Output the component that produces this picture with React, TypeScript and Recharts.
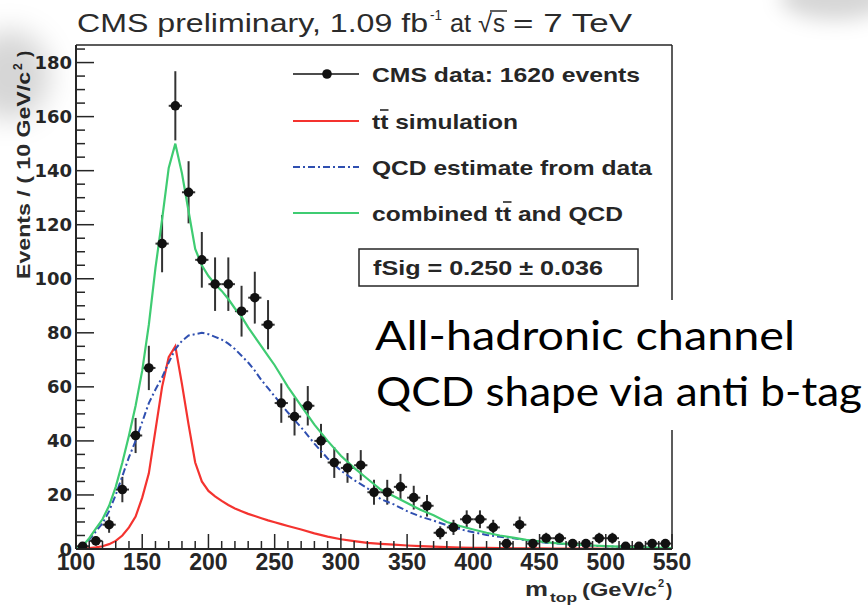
import React from 'react'
import { ComposedChart, Line, Scatter, ErrorBar, XAxis, YAxis, ReferenceLine, Legend } from 'recharts'

// data histogram, 10 GeV bins
const BIN_CENTERS = [105, 115, 125, 135, 145, 155, 165, 175, 185, 195, 205, 215, 225, 235, 245, 255, 265, 275, 285, 295, 305, 315, 325, 335, 345, 355, 365, 375, 385, 395, 405, 415, 425, 435, 445, 455, 465, 475, 485, 495, 505, 515, 525, 535, 545]
const EVENTS = [1, 3, 9, 22, 42, 67, 113, 164, 132, 107, 98, 98, 88, 93, 83, 54, 49, 53, 40, 32, 30, 31, 21, 21, 23, 19, 16, 6, 8, 11, 11, 8, 2, 9, 2, 4, 4, 2, 2, 4, 4, 1, 1, 2, 2]
const EVENT_ERR = [1, 1.7, 3, 4.7, 6.5, 8.2, 10.6, 12.8, 11.5, 10.3, 9.9, 9.9, 9.4, 9.6, 9.1, 7.3, 7, 7.3, 6.3, 5.7, 5.5, 5.6, 4.6, 4.6, 4.8, 4.4, 4, 2.4, 2.8, 3.3, 3.3, 2.8, 1.4, 3, 1.4, 2, 2, 1.4, 1.4, 2, 2, 1, 1, 1.4, 1.4]
const HALF_BIN = 5

// fitted curves, sampled on a common grid
const CURVE_X = [100, 105, 110, 115, 120, 125, 130, 135, 140, 145, 150, 155, 160, 165, 170, 175, 180, 185, 190, 195, 200, 205, 210, 215, 220, 225, 230, 235, 240, 245, 250, 255, 260, 270, 280, 290, 300, 310, 320, 330, 340, 350, 360, 370, 380, 390, 400, 410, 420, 430, 440, 450, 460, 470, 480, 490, 500, 520, 550]
const TT_SIM = [0, 0.1, 0.3, 0.6, 1, 1.8, 3, 5, 8, 12, 19, 28, 44, 60, 71, 75, 61, 46, 32, 25, 21.5, 19.5, 17.8, 16.3, 15, 14, 13, 12.2, 11.4, 10.6, 9.9, 9.2, 8.5, 7.2, 5.8, 4.6, 3.6, 2.9, 2.3, 1.9, 1.6, 1.3, 1.1, 0.9, 0.7, 0.55, 0.45, 0.38, 0.32, 0.27, 0.23, 0.2, 0.17, 0.15, 0.13, 0.11, 0.1, 0.07, 0.04]
const QCD_EST = [0, 1, 3.5, 6.5, 9.5, 14, 20, 27, 34, 40, 47, 54, 59, 63.5, 69, 74, 77, 79, 79.5, 80, 79.5, 78.5, 77.5, 76, 74, 71.5, 69, 66, 62.5, 59.5, 56.5, 53.5, 50.5, 45, 39, 33.5, 29, 25.5, 22.5, 18.5, 16.5, 14, 12, 10.5, 8.8, 7.3, 6.2, 5.2, 4.5, 4, 3.2, 2.6, 2.1, 1.8, 1.5, 1.2, 1, 0.6, 0.3]
const COMBINED = [0, 1, 4, 7.5, 11, 16, 23, 32, 42, 53, 66, 83, 104, 122, 141, 150, 139, 125, 111, 105, 101, 98, 95.5, 92.5, 89, 86, 82, 78.5, 75, 71.5, 68, 64, 60, 53, 46, 40, 34.5, 30, 26, 22, 19.5, 17, 14.5, 12.5, 10, 8.5, 7.2, 6, 5, 4.2, 3.4, 2.8, 2.3, 1.9, 1.6, 1.3, 1.1, 0.7, 0.3]

const X_LABELS = [100, 150, 200, 250, 300, 350, 400, 450, 500, 550]
const Y_LABELS = [0, 20, 40, 60, 80, 100, 120, 140, 160, 180]
const X_TICKS = Array.from({ length: 46 }, (_, i) => 100 + i * 10)
const Y_TICKS = Array.from({ length: 38 }, (_, i) => i * 5)
const Y_MAX = 186.5

const points = BIN_CENTERS.map((x, i) => ({ x, y: EVENTS[i], yErr: EVENT_ERR[i], xErr: HALF_BIN }))
const toCurve = (vals: number[]) => CURVE_X.map((x, i) => ({ x, y: vals[i] }))

const RED = '#f4332f'
const BLUE = '#2f4fb0'
const GREEN = '#3fcc72'
const INK = '#262626'
const SANS = '"Liberation Sans", Arial, Helvetica, sans-serif'

function XTick({ x, y, payload }: any) {
  const v = payload.value
  const major = X_LABELS.includes(v)
  return (
    <g>
      <line x1={x} x2={x} y1={y} y2={y - (major ? 15 : 8)} stroke={INK} strokeWidth={1.5} />
      {major && (
        <text x={x} y={y + 21} textAnchor="middle" fontFamily={SANS} fontWeight="bold" fontSize={23} fill={INK}>
          {v}
        </text>
      )}
    </g>
  )
}

function YTick({ x, y, payload }: any) {
  const v = payload.value
  const major = Y_LABELS.includes(v)
  return (
    <g>
      <line x1={x} x2={x + (major ? 18 : 9)} y1={y} y2={y} stroke={INK} strokeWidth={1.5} />
      {major && (
        <text x={x - 4} y={y + 6.5} textAnchor="end" fontFamily='"DejaVu Sans", sans-serif' fontWeight="bold" fontSize={18} fill={INK}>
          {v}
        </text>
      )}
    </g>
  )
}

function Dot({ cx, cy }: any) {
  return <circle cx={cx} cy={cy} r={4.8} fill="#111" />
}

function LegendBox() {
  const txt = { fontFamily: SANS, fontWeight: 'bold' as const, fontSize: 21, fill: INK, lengthAdjust: 'spacingAndGlyphs' as const }
  return (
    <svg width={868} height={300} style={{ display: 'block', pointerEvents: 'none' }}>
      <line x1={293} x2={359} y1={74} y2={74} stroke="#111" strokeWidth={1.5} />
      <circle cx={327} cy={74} r={4.8} fill="#111" />
      <text x={372} y={81.5} textLength={268} {...txt}>CMS data: 1620 events</text>

      <line x1={293} x2={359} y1={121} y2={121} stroke={RED} strokeWidth={2} />
      <text x={372} y={128.5} textLength={146} {...txt}>tt simulation</text>
      <line x1={380} x2={388.5} y1={110} y2={110} stroke={INK} strokeWidth={1.6} />

      <line x1={293} x2={359} y1={167} y2={167} stroke={BLUE} strokeWidth={2} strokeDasharray="7 3 2 3" />
      <text x={372} y={174.5} textLength={280} {...txt}>QCD estimate from data</text>

      <line x1={293} x2={359} y1={213} y2={213} stroke={GREEN} strokeWidth={2} />
      <text x={372} y={220.5} textLength={251} {...txt}>combined tt and QCD</text>
      <line x1={503} x2={511.5} y1={202} y2={202} stroke={INK} strokeWidth={1.6} />

      <rect x={359} y={249} width={279} height={37} fill="#fff" stroke={INK} strokeWidth={1.5} />
      <text x={373} y={275} textLength={230} {...txt}>fSig =  0.250 ± 0.036</text>
    </svg>
  )
}

export default function App() {
  return (
    <div style={{ position: 'absolute', left: 0, top: 0, width: 868, height: 606, background: '#fff', overflow: 'hidden' }}>
      <ComposedChart width={868} height={606} margin={{ top: 45, right: 196, bottom: 17, left: 0 }}>
        <XAxis
          type="number"
          dataKey="x"
          domain={[100, 550]}
          ticks={X_TICKS}
          interval={0}
          allowDataOverflow
          height={40}
          tickSize={0}
          tickMargin={0}
          tickLine={false}
          tick={<XTick />}
          axisLine={{ stroke: INK, strokeWidth: 2 }}
        />
        <YAxis
          type="number"
          domain={[0, Y_MAX]}
          ticks={Y_TICKS}
          interval={0}
          allowDataOverflow
          width={76}
          tickSize={0}
          tickMargin={0}
          tickLine={false}
          tick={<YTick />}
          axisLine={{ stroke: INK, strokeWidth: 2 }}
        />
        <ReferenceLine y={Y_MAX} stroke={INK} strokeWidth={1.5} />
        <ReferenceLine x={550} stroke={INK} strokeWidth={1.5} />
        <Scatter data={points} dataKey="y" shape={<Dot />} isAnimationActive={false}>
          <ErrorBar dataKey="yErr" direction="y" width={0} stroke="#333" strokeWidth={2} />
          <ErrorBar dataKey="xErr" direction="x" width={0} stroke="#333" strokeWidth={2} />
        </Scatter>
        <Line data={toCurve(TT_SIM)} dataKey="y" type="linear" stroke={RED} strokeWidth={2.2} dot={false} isAnimationActive={false} />
        <Line data={toCurve(QCD_EST)} dataKey="y" type="linear" stroke={BLUE} strokeWidth={2} strokeDasharray="7 3 2 3" dot={false} isAnimationActive={false} />
        <Line data={toCurve(COMBINED)} dataKey="y" type="linear" stroke={GREEN} strokeWidth={2.2} dot={false} isAnimationActive={false} />
        <Legend
          layout="horizontal"
          verticalAlign="middle"
          align="center"
          wrapperStyle={{ left: 0, top: 0, width: 868, height: 300 }}
          content={() => <LegendBox />}
        />
      </ComposedChart>

      <svg width={868} height={606} style={{ position: 'absolute', left: 0, top: 0, pointerEvents: 'none' }}>
        {/* title */}
        <g fontFamily={SANS} fill="#2b2b2b" fontSize={25}>
          <text x={77} y={32} textLength={351} lengthAdjust="spacingAndGlyphs">CMS preliminary, 1.09 fb</text>
          <text x={430} y={20} fontSize={15} textLength={12} lengthAdjust="spacingAndGlyphs">-1</text>
          <text x={450} y={32} textLength={21} lengthAdjust="spacingAndGlyphs">at</text>
          <text x={478} y={32} textLength={14} lengthAdjust="spacingAndGlyphs">√</text>
          <line x1={490} x2={507} y1={11} y2={11} stroke="#2b2b2b" strokeWidth={1.5} />
          <text x={493} y={32} textLength={12} lengthAdjust="spacingAndGlyphs">s</text>
          <text x={513} y={32} textLength={119} lengthAdjust="spacingAndGlyphs">= 7 TeV</text>
        </g>

        {/* y axis title */}
        <g transform="translate(30,279) rotate(-90)" fontFamily={SANS} fontWeight="bold" fill="#2b2b2b" fontSize={19}>
          <text x={0} y={0} textLength={207} lengthAdjust="spacingAndGlyphs">Events / ( 10 GeV/c</text>
          <text x={209} y={-8} fontSize={12}>2</text>
          <text x={222} y={0}>)</text>
        </g>

        {/* x axis title */}
        <g fontFamily={SANS} fontWeight="bold" fill="#2b2b2b">
          <text x={525} y={596} fontSize={20} textLength={23} lengthAdjust="spacingAndGlyphs">m</text>
          <text x={550} y={602} fontSize={12} textLength={27} lengthAdjust="spacingAndGlyphs">top</text>
          <text x={582} y={596} fontSize={19} textLength={75} lengthAdjust="spacingAndGlyphs">(GeV/c</text>
          <text x={658} y={587} fontSize={11}>2</text>
          <text x={666} y={596} fontSize={19}>)</text>
        </g>

        {/* slide annotation */}
        <rect x={366} y={300} width={502} height={130} fill="#fff" />
        <g fontFamily="Lato, 'Open Sans', sans-serif" fill="#000" fontSize={40}>
          <text x={375} y={350} textLength={420} lengthAdjust="spacingAndGlyphs">All-hadronic channel</text>
          <text x={376} y={406} textLength={486} lengthAdjust="spacingAndGlyphs">QCD shape via anti b-tag</text>
        </g>
      </svg>

      {/* soft shadows left on the slide */}
      <div style={{ position: 'absolute', left: -30, top: 30, width: 80, height: 90, borderRadius: '50%', background: 'rgba(0,0,0,0.16)', filter: 'blur(14px)', pointerEvents: 'none' }} />
      <div style={{ position: 'absolute', left: 780, top: -25, width: 110, height: 45, borderRadius: '50%', background: 'rgba(0,0,0,0.16)', filter: 'blur(10px)', pointerEvents: 'none' }} />
    </div>
  )
}
